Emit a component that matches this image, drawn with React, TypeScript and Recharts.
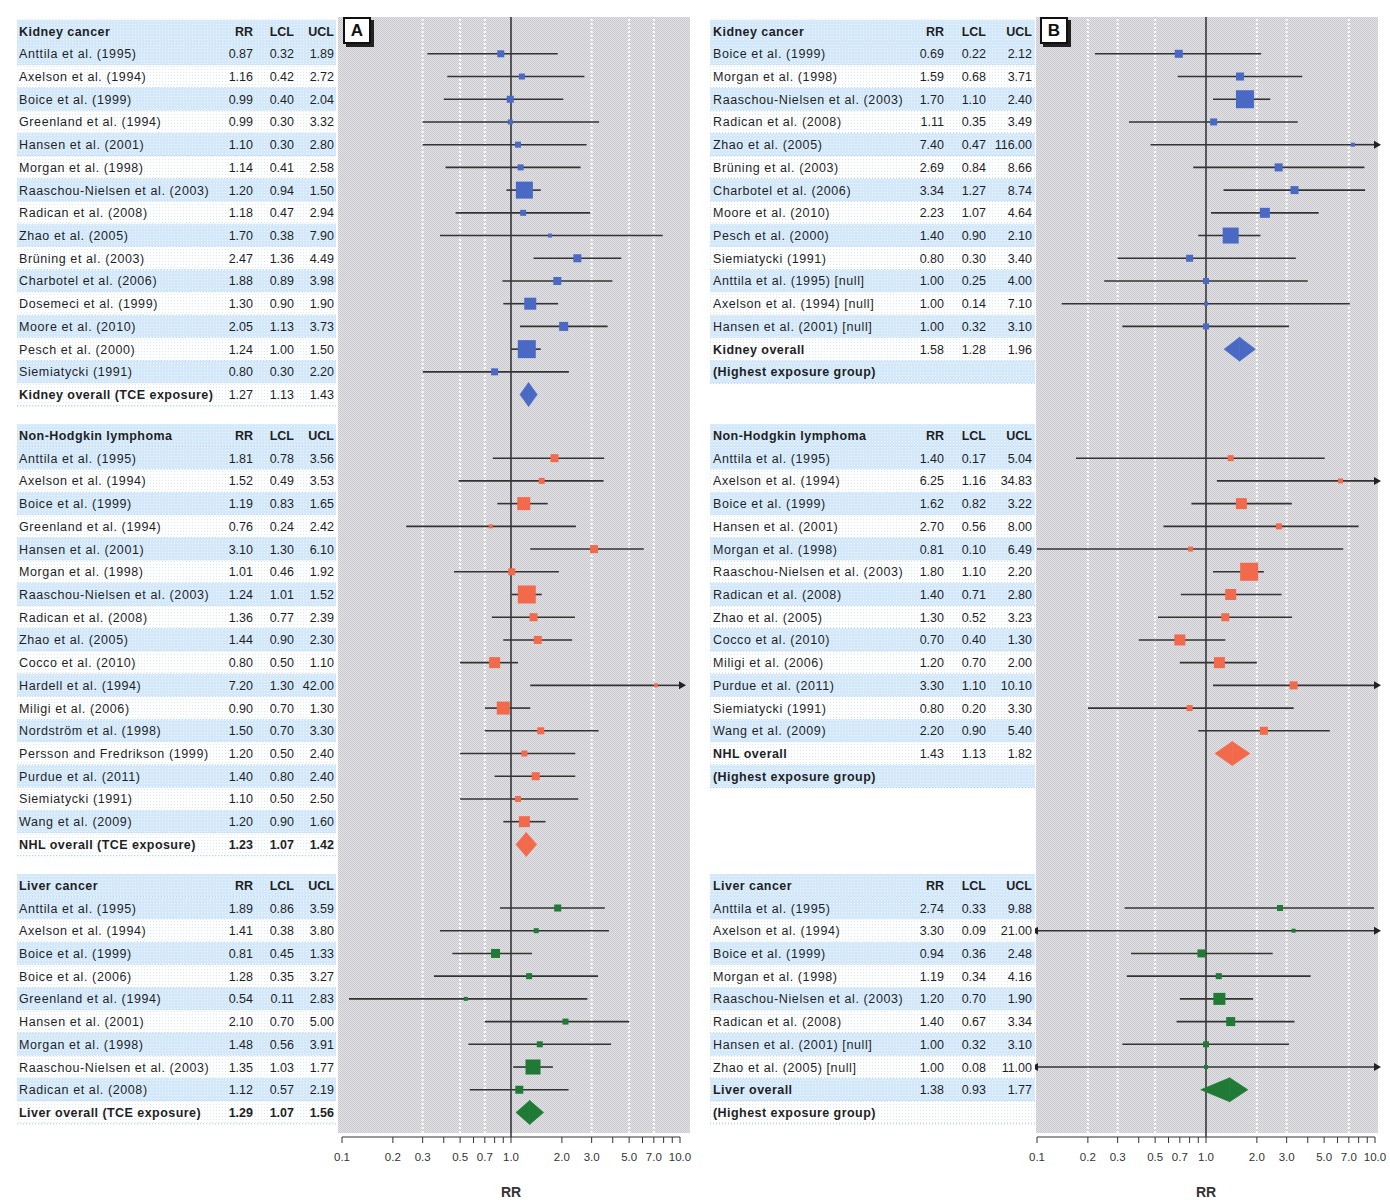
import React from 'react';
import { ComposedChart, XAxis, YAxis, Scatter, ReferenceLine } from 'recharts';

// [study, RR, LCL, UCL, relative weight]
type Study = [string, number, number, number, number];
type Pooled = [number, number, number];

const kidneyA: Study[] = [
  ['Anttila et al. (1995)', 0.87, 0.32, 1.89, 7],
  ['Axelson et al. (1994)', 1.16, 0.42, 2.72, 6],
  ['Boice et al. (1999)', 0.99, 0.4, 2.04, 7],
  ['Greenland et al. (1994)', 0.99, 0.3, 3.32, 5],
  ['Hansen et al. (2001)', 1.1, 0.3, 2.8, 6],
  ['Morgan et al. (1998)', 1.14, 0.41, 2.58, 6],
  ['Raaschou-Nielsen et al. (2003)', 1.2, 0.94, 1.5, 17],
  ['Radican et al. (2008)', 1.18, 0.47, 2.94, 6],
  ['Zhao et al. (2005)', 1.7, 0.38, 7.9, 4],
  ['Brüning et al. (2003)', 2.47, 1.36, 4.49, 8],
  ['Charbotel et al. (2006)', 1.88, 0.89, 3.98, 8],
  ['Dosemeci et al. (1999)', 1.3, 0.9, 1.9, 12],
  ['Moore et al. (2010)', 2.05, 1.13, 3.73, 9],
  ['Pesch et al. (2000)', 1.24, 1.0, 1.5, 18],
  ['Siemiatycki (1991)', 0.8, 0.3, 2.2, 7],
];

const nhlA: Study[] = [
  ['Anttila et al. (1995)', 1.81, 0.78, 3.56, 8],
  ['Axelson et al. (1994)', 1.52, 0.49, 3.53, 6],
  ['Boice et al. (1999)', 1.19, 0.83, 1.65, 13],
  ['Greenland et al. (1994)', 0.76, 0.24, 2.42, 4],
  ['Hansen et al. (2001)', 3.1, 1.3, 6.1, 8],
  ['Morgan et al. (1998)', 1.01, 0.46, 1.92, 7],
  ['Raaschou-Nielsen et al. (2003)', 1.24, 1.01, 1.52, 18],
  ['Radican et al. (2008)', 1.36, 0.77, 2.39, 8],
  ['Zhao et al. (2005)', 1.44, 0.9, 2.3, 8],
  ['Cocco et al. (2010)', 0.8, 0.5, 1.1, 11],
  ['Hardell et al. (1994)', 7.2, 1.3, 42.0, 4],
  ['Miligi et al. (2006)', 0.9, 0.7, 1.3, 13],
  ['Nordström et al. (1998)', 1.5, 0.7, 3.3, 7],
  ['Persson and Fredrikson (1999)', 1.2, 0.5, 2.4, 6],
  ['Purdue et al. (2011)', 1.4, 0.8, 2.4, 8],
  ['Siemiatycki (1991)', 1.1, 0.5, 2.5, 6],
  ['Wang et al. (2009)', 1.2, 0.9, 1.6, 11],
];

const liverA: Study[] = [
  ['Anttila et al. (1995)', 1.89, 0.86, 3.59, 7],
  ['Axelson et al. (1994)', 1.41, 0.38, 3.8, 5],
  ['Boice et al. (1999)', 0.81, 0.45, 1.33, 9],
  ['Boice et al. (2006)', 1.28, 0.35, 3.27, 6],
  ['Greenland et al. (1994)', 0.54, 0.11, 2.83, 4],
  ['Hansen et al. (2001)', 2.1, 0.7, 5.0, 6],
  ['Morgan et al. (1998)', 1.48, 0.56, 3.91, 6],
  ['Raaschou-Nielsen et al. (2003)', 1.35, 1.03, 1.77, 15],
  ['Radican et al. (2008)', 1.12, 0.57, 2.19, 8],
];

const kidneyB: Study[] = [
  ['Boice et al. (1999)', 0.69, 0.22, 2.12, 8],
  ['Morgan et al. (1998)', 1.59, 0.68, 3.71, 8],
  ['Raaschou-Nielsen et al. (2003)', 1.7, 1.1, 2.4, 18],
  ['Radican et al. (2008)', 1.11, 0.35, 3.49, 7],
  ['Zhao et al. (2005)', 7.4, 0.47, 116.0, 4],
  ['Brüning et al. (2003)', 2.69, 0.84, 8.66, 8],
  ['Charbotel et al. (2006)', 3.34, 1.27, 8.74, 8],
  ['Moore et al. (2010)', 2.23, 1.07, 4.64, 10],
  ['Pesch et al. (2000)', 1.4, 0.9, 2.1, 16],
  ['Siemiatycki (1991)', 0.8, 0.3, 3.4, 7],
  ['Anttila et al. (1995) [null]', 1.0, 0.25, 4.0, 6],
  ['Axelson et al. (1994) [null]', 1.0, 0.14, 7.1, 4],
  ['Hansen et al. (2001) [null]', 1.0, 0.32, 3.1, 6],
];

const nhlB: Study[] = [
  ['Anttila et al. (1995)', 1.4, 0.17, 5.04, 6],
  ['Axelson et al. (1994)', 6.25, 1.16, 34.83, 5],
  ['Boice et al. (1999)', 1.62, 0.82, 3.22, 11],
  ['Hansen et al. (2001)', 2.7, 0.56, 8.0, 6],
  ['Morgan et al. (1998)', 0.81, 0.1, 6.49, 5],
  ['Raaschou-Nielsen et al. (2003)', 1.8, 1.1, 2.2, 18],
  ['Radican et al. (2008)', 1.4, 0.71, 2.8, 11],
  ['Zhao et al. (2005)', 1.3, 0.52, 3.23, 8],
  ['Cocco et al. (2010)', 0.7, 0.4, 1.3, 11],
  ['Miligi et al. (2006)', 1.2, 0.7, 2.0, 11],
  ['Purdue et al. (2011)', 3.3, 1.1, 10.1, 8],
  ['Siemiatycki (1991)', 0.8, 0.2, 3.3, 6],
  ['Wang et al. (2009)', 2.2, 0.9, 5.4, 8],
];

const liverB: Study[] = [
  ['Anttila et al. (1995)', 2.74, 0.33, 9.88, 6],
  ['Axelson et al. (1994)', 3.3, 0.09, 21.0, 4],
  ['Boice et al. (1999)', 0.94, 0.36, 2.48, 8],
  ['Morgan et al. (1998)', 1.19, 0.34, 4.16, 6],
  ['Raaschou-Nielsen et al. (2003)', 1.2, 0.7, 1.9, 12],
  ['Radican et al. (2008)', 1.4, 0.67, 3.34, 9],
  ['Hansen et al. (2001) [null]', 1.0, 0.32, 3.1, 6],
  ['Zhao et al. (2005) [null]', 1.0, 0.08, 11.0, 4],
];

const pooledA: Pooled[] = [[1.27, 1.13, 1.43], [1.23, 1.07, 1.42], [1.29, 1.07, 1.56]];
const pooledB: Pooled[] = [[1.58, 1.28, 1.96], [1.43, 1.13, 1.82], [1.38, 0.93, 1.77]];

const sectionTitles = ['Kidney cancer', 'Non-Hodgkin lymphoma', 'Liver cancer'];
const pooledNamesA = ['Kidney overall (TCE exposure)', 'NHL overall (TCE exposure)', 'Liver overall (TCE exposure)'];
const pooledNamesB = ['Kidney overall', 'NHL overall', 'Liver overall'];
const pooledNote = '(Highest exposure group)';
const columnHeads = ['RR', 'LCL', 'UCL'];

const axisTicks = [0.1, 0.2, 0.3, 0.4, 0.5, 0.6, 0.7, 0.8, 0.9, 1, 2, 3, 4, 5, 6, 7, 8, 9, 10];
const tickLabels = [0.1, 0.2, 0.3, 0.5, 0.7, 1, 2, 3, 5, 7, 10];
const gridA = [0.3, 0.5, 0.7, 3, 5, 7];
const gridB = [0.2, 0.3, 0.5, 2, 3, 7];

const colors = ['#4a69c4', '#f26a4b', '#1e7a34'];

const X_MIN = 0.1;
const X_MAX = 10;
const SECTION_GAP = 0.8;
const ROW_H = 22.7;
const FONT = "'Liberation Sans Narrow', 'Liberation Sans', Arial, sans-serif";

const sectionsA = [kidneyA, nhlA, liverA];
const sectionsB = [kidneyB, nhlB, liverB];

// rows where each section starts, shared by both panels
const sectionStart: number[] = [];
sectionsA.forEach((s, k) => {
  sectionStart.push(k === 0 ? 0 : sectionStart[k - 1] + sectionsA[k - 1].length + 2 + SECTION_GAP);
});

const fmt = (v: number) => v.toFixed(2);

type TableRow = {
  x: number;
  y: number;
  label: string;
  vals: string[];
  kind: 'head' | 'study' | 'pooled' | 'note';
  shaded: boolean;
  boldVals: boolean;
};

type Layout = { x0: number; x1: number; nameX: number; cols: number[] };

function buildTable(sections: Study[][], pooled: Pooled[], pooledNames: string[], withNote: boolean, panelA: boolean) {
  const rows: TableRow[] = [];
  sections.forEach((studies, k) => {
    const s = sectionStart[k];
    rows.push({ x: 1, y: s, label: sectionTitles[k], vals: columnHeads, kind: 'head', shaded: true, boldVals: true });
    studies.forEach((st, i) => {
      rows.push({
        x: 1, y: s + 1 + i, label: st[0], vals: [fmt(st[1]), fmt(st[2]), fmt(st[3])],
        kind: 'study', shaded: i % 2 === 0, boldVals: false,
      });
    });
    const n = studies.length;
    const p = pooled[k];
    rows.push({
      x: 1, y: s + 1 + n, label: pooledNames[k], vals: [fmt(p[0]), fmt(p[1]), fmt(p[2])],
      kind: 'pooled', shaded: n % 2 === 0, boldVals: panelA && k > 0,
    });
    if (withNote) {
      rows.push({ x: 1, y: s + 2 + n, label: pooledNote, vals: [], kind: 'note', shaded: (n + 1) % 2 === 0, boldVals: false });
    }
  });
  return rows;
}

const TableRowShape = (props: any) => {
  const { cy, payload, layout } = props;
  const r: TableRow = payload;
  const L: Layout = layout;
  if (cy == null) return null;
  const top = cy - ROW_H / 2;
  const boldName = r.kind !== 'study';
  return (
    <g>
      <rect x={L.x0} y={top} width={L.x1 - L.x0} height={ROW_H} fill={r.shaded ? 'url(#rowBlue)' : 'url(#rowWhite)'} />
      <line x1={L.x0} x2={L.x1} y1={top + ROW_H} y2={top + ROW_H} stroke="#a6c6ee" strokeDasharray="1 2" />
      <text x={L.nameX} y={cy} dy="0.36em" fontSize={12.5} fontFamily={FONT}
        fontWeight={boldName ? 700 : 400} letterSpacing={boldName ? 0.45 : 0.6} fill="#1f1f1f">
        {r.label}
      </text>
      {r.vals.map((v, j) => (
        <text key={j} x={L.cols[j]} y={cy} dy="0.36em" textAnchor="end" fontSize={12.5} fontFamily={FONT}
          fontWeight={r.boldVals ? 700 : 400} fill="#1f1f1f">
          {v}
        </text>
      ))}
    </g>
  );
};

// upper half of a CI: from RR to UCL, arrow if UCL is off scale
const UpperArm = (props: any) => {
  const { x1, y1, x2, arrow } = props;
  return (
    <g>
      <line x1={x1} y1={y1} x2={x2} y2={y1} stroke="#333" strokeWidth={1.6} />
      {arrow && <path d={`M${x2 - 1},${y1 - 4} L${x2 + 6},${y1} L${x2 - 1},${y1 + 4} Z`} fill="#222" />}
    </g>
  );
};

// lower half of a CI plus the study box at the RR end
const LowerArm = (props: any) => {
  const { x1, y1, x2, arrow, size, color } = props;
  return (
    <g>
      <line x1={x1} y1={y1} x2={x2} y2={y1} stroke="#333" strokeWidth={1.6} />
      {arrow && <path d={`M${x1 + 1},${y1 - 4} L${x1 - 6},${y1} L${x1 + 1},${y1 + 4} Z`} fill="#222" />}
      <rect x={x2 - size / 2} y={y1 - size / 2} width={size} height={size} fill={color} />
    </g>
  );
};

const HalfDiamond = (props: any) => {
  const { x1, y1, x2, side, color } = props;
  const h = 12;
  const d = side === 'left'
    ? `M${x1},${y1} L${x2},${y1 - h} L${x2},${y1 + h} Z`
    : `M${x1},${y1 - h} L${x2},${y1} L${x1},${y1 + h} Z`;
  return <path d={d} fill={color} stroke={color} strokeWidth={0.6} />;
};

type PanelProps = {
  left: number;
  width: number;
  marginRight: number;
  sections: Study[][];
  pooled: Pooled[];
  pooledNames: string[];
  withNote: boolean;
  grid: number[];
  layout: Layout;
  panelA: boolean;
};

const Panel = ({ left, width, marginRight, sections, pooled, pooledNames, withNote, grid, layout, panelA }: PanelProps) => {
  const table = buildTable(sections, pooled, pooledNames, withNote, panelA);
  const clampLo = (v: number) => Math.max(v, X_MIN);
  const clampHi = (v: number) => Math.min(v, X_MAX);

  return (
    <div style={{ position: 'absolute', left, top: 0 }}>
      <ComposedChart width={width} height={1202} margin={{ top: 17, right: marginRight, left: 342, bottom: 0 }}>
        <XAxis
          type="number"
          dataKey="x"
          scale="log"
          domain={[X_MIN, X_MAX]}
          ticks={axisTicks}
          interval={0}
          height={65}
          tickSize={6}
          tickMargin={10}
          stroke="#333"
          tick={{ fontSize: 11.5, fontFamily: FONT, fill: '#333' }}
          tickFormatter={(v: number) => (tickLabels.some((t) => Math.abs(t - v) < 1e-9) ? v.toFixed(1) : '')}
          label={{ value: 'RR', position: 'insideBottom', offset: 5, style: { fontSize: 14, fontFamily: FONT, fontWeight: 700, fill: '#333' } }}
        />
        <YAxis type="number" dataKey="y" hide reversed domain={[-0.62, 48.68]} />
        {grid.map((g) => (
          <ReferenceLine key={`g${g}`} x={g} stroke="#ffffff" strokeWidth={2} strokeDasharray="2 2" ifOverflow="visible" />
        ))}
        <ReferenceLine x={1} stroke="#222" strokeWidth={1.4} ifOverflow="visible" />
        {sections.map((studies, k) =>
          studies.map((st, i) => {
            const y = sectionStart[k] + 1 + i;
            return (
              <React.Fragment key={`s${k}-${i}`}>
                <ReferenceLine
                  segment={[{ x: st[1], y }, { x: clampHi(st[3]), y }]}
                  ifOverflow="visible"
                  shape={(p: any) => <UpperArm {...p} arrow={st[3] > X_MAX} />}
                />
                <ReferenceLine
                  segment={[{ x: clampLo(st[2]), y }, { x: st[1], y }]}
                  ifOverflow="visible"
                  shape={(p: any) => <LowerArm {...p} arrow={st[2] < X_MIN} size={st[4]} color={colors[k]} />}
                />
              </React.Fragment>
            );
          })
        )}
        {pooled.map((p, k) => {
          const y = sectionStart[k] + 1 + sections[k].length;
          return (
            <React.Fragment key={`p${k}`}>
              <ReferenceLine
                segment={[{ x: p[1], y }, { x: p[0], y }]}
                ifOverflow="visible"
                shape={(q: any) => <HalfDiamond {...q} side="left" color={colors[k]} />}
              />
              <ReferenceLine
                segment={[{ x: p[0], y }, { x: p[2], y }]}
                ifOverflow="visible"
                shape={(q: any) => <HalfDiamond {...q} side="right" color={colors[k]} />}
              />
            </React.Fragment>
          );
        })}
        <Scatter
          data={table}
          isAnimationActive={false}
          shape={(p: any) => <TableRowShape {...p} layout={layout} />}
        />
      </ComposedChart>
    </div>
  );
};

const PanelTag = ({ left, text }: { left: number; text: string }) => (
  <div
    style={{
      position: 'absolute', left, top: 17, width: 24, height: 23, background: '#fff',
      border: '2px solid #111', boxShadow: '3px 3px 0 #222', fontFamily: 'Liberation Sans, Arial, sans-serif',
      fontWeight: 700, fontSize: 17, lineHeight: '23px', textAlign: 'center', color: '#111',
    }}
  >
    {text}
  </div>
);

const plotBg = {
  position: 'absolute' as const,
  top: 17,
  height: 1116,
  background: 'repeating-conic-gradient(#c9c9cd 0% 25%, #e3e3e7 0% 50%) 0 0 / 2px 2px',
};

export default function App() {
  return (
    <div style={{ position: 'absolute', left: 0, top: 0, width: 1390, height: 1202, background: '#fff', overflow: 'hidden' }}>
      <svg width={0} height={0} style={{ position: 'absolute' }}>
        <defs>
          <pattern id="rowBlue" width={3} height={3} patternUnits="userSpaceOnUse">
            <rect width={3} height={3} fill="#d3e9fb" />
            <rect width={1} height={1} fill="#eef7ff" />
          </pattern>
          <pattern id="rowWhite" width={3} height={3} patternUnits="userSpaceOnUse">
            <rect width={3} height={3} fill="#ffffff" />
            <rect width={1} height={1} fill="#dde9f8" />
          </pattern>
        </defs>
      </svg>
      <div style={{ ...plotBg, left: 338, width: 352 }} />
      <div style={{ ...plotBg, left: 1036, width: 342 }} />
      <Panel
        left={0}
        width={700}
        marginRight={20}
        sections={sectionsA}
        pooled={pooledA}
        pooledNames={pooledNamesA}
        withNote={false}
        grid={gridA}
        layout={{ x0: 17, x1: 336, nameX: 19, cols: [253, 294, 334] }}
        panelA
      />
      <Panel
        left={695}
        width={695}
        marginRight={15}
        sections={sectionsB}
        pooled={pooledB}
        pooledNames={pooledNamesB}
        withNote
        grid={gridB}
        layout={{ x0: 15, x1: 340, nameX: 18, cols: [249, 291, 337] }}
        panelA={false}
      />
      <PanelTag left={343} text="A" />
      <PanelTag left={1040} text="B" />
    </div>
  );
}
